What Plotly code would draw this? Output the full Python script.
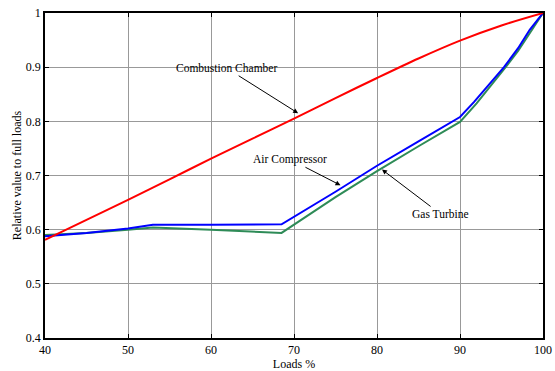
import plotly.graph_objects as go

cc_x = [40, 45, 50, 55, 60, 65, 70, 75, 80, 85, 90, 95, 100]
cc_y = [0.581, 0.618, 0.655, 0.693, 0.731, 0.768, 0.805, 0.843, 0.880, 0.916, 0.949, 0.977, 1.0]

ac_x = [40, 45, 50, 53, 60, 68.5, 75, 80, 85, 90, 91.7, 93.7, 95.3, 97, 98.4, 100]
ac_y = [0.588, 0.594, 0.602, 0.609, 0.609, 0.610, 0.670, 0.718, 0.763, 0.808, 0.836, 0.871, 0.900, 0.935, 0.969, 1.0]

gt_x = [40, 45, 50, 53, 60, 68.5, 75, 80, 85, 90, 92, 93.7, 95.5, 97, 99, 100]
gt_y = [0.590, 0.594, 0.600, 0.604, 0.600, 0.594, 0.660, 0.708, 0.754, 0.799, 0.833, 0.865, 0.900, 0.930, 0.976, 1.0]

x_ticks = [40, 50, 60, 70, 80, 90, 100]
y_ticks = [0.4, 0.5, 0.6, 0.7, 0.8, 0.9, 1.0]
y_tick_text = ["0.4", "0.5", "0.6", "0.7", "0.8", "0.9", "1"]

font = "Times New Roman, Liberation Serif, serif"

fig = go.Figure()
fig.add_trace(go.Scatter(x=gt_x, y=gt_y, mode="lines", line=dict(color="#2e8b57", width=2), name="Gas Turbine"))
fig.add_trace(go.Scatter(x=ac_x, y=ac_y, mode="lines", line=dict(color="#0000ff", width=2), name="Air Compressor"))
fig.add_trace(go.Scatter(x=cc_x, y=cc_y, mode="lines",
                         line=dict(color="#ff0000", width=2, shape="spline", smoothing=0.8),
                         name="Combustion Chamber"))

axis_common = dict(
    showline=True, linecolor="black", linewidth=1.5, mirror="ticks",
    ticks="inside", ticklen=4, tickcolor="black",
    showgrid=True, gridcolor="#999999", gridwidth=1, zeroline=False,
    automargin=False,
    tickfont=dict(family=font, size=12, color="black"),
)

fig.update_layout(
    width=555, height=371,
    margin=dict(l=45, r=12, t=13, b=33),
    paper_bgcolor="white", plot_bgcolor="white",
    showlegend=False,
    font=dict(family=font, size=12, color="black"),
    xaxis=dict(range=[40, 100], tickvals=x_ticks,
               title=dict(text="Loads %", font=dict(family=font, size=12), standoff=1),
               **axis_common),
    yaxis=dict(range=[0.4, 1.0], tickvals=y_ticks, ticktext=y_tick_text,
               title=dict(text="Relative value to full loads", font=dict(family=font, size=12), standoff=2),
               **axis_common),
)

arrow = dict(showarrow=True, arrowhead=2, arrowsize=1, arrowwidth=1, arrowcolor="black",
             axref="x", ayref="y", xref="x", yref="y",
             font=dict(family=font, size=11.5, color="black"))

fig.add_annotation(text="Combustion Chamber", x=70.5, y=0.815, ax=61.9, ay=0.898,
                   xanchor="center", yanchor="middle", **arrow)
fig.add_annotation(text="Air Compressor", x=75.6, y=0.682, ax=69.5, ay=0.730,
                   xanchor="center", yanchor="middle", **arrow)
fig.add_annotation(text="Gas Turbine", x=80.6, y=0.711, ax=87.65, ay=0.629,
                   xanchor="center", yanchor="middle", **arrow)

fig.write_html("out.html")
